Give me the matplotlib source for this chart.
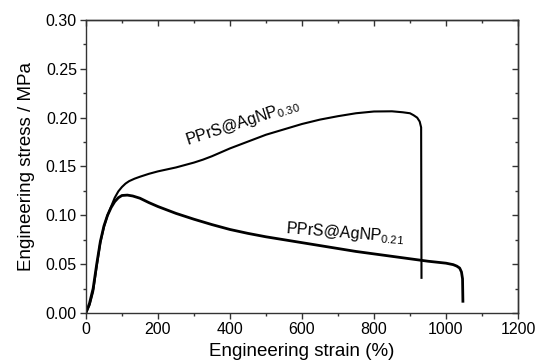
import numpy as np
import matplotlib
matplotlib.use("Agg")
import matplotlib.pyplot as plt
from matplotlib.ticker import MultipleLocator, FormatStrFormatter, NullFormatter

plt.rcParams['font.family'] = ['Liberation Sans', 'DejaVu Sans']
plt.rcParams['mathtext.fontset'] = 'custom'
plt.rcParams['mathtext.rm'] = 'Liberation Sans'
plt.rcParams['mathtext.it'] = 'Liberation Sans:italic'

# PPrS@AgNP 0.30
strain_30 = [0, 10, 20, 30, 40, 50, 60, 70, 80, 90, 100, 110, 120, 135, 150, 175, 200,
             225, 250, 275, 300, 325, 350, 375, 400, 425, 450, 475, 500, 550, 600,
             650, 700, 750, 800, 850, 880, 900, 910, 920, 927, 931, 932]
stress_30 = [0, 0.008, 0.022, 0.048, 0.072, 0.088, 0.100, 0.109, 0.118, 0.1245, 0.129,
             0.1325, 0.135, 0.1375, 0.1395, 0.1425, 0.145, 0.147, 0.149, 0.1515, 0.154,
             0.157, 0.1605, 0.1645, 0.1685, 0.172, 0.1755, 0.179, 0.1825, 0.188,
             0.1935, 0.198, 0.2015, 0.2045, 0.2063, 0.2065, 0.2055, 0.2045, 0.2025,
             0.200, 0.196, 0.190, 0.036]

# PPrS@AgNP 0.21
strain_21 = [0, 10, 20, 30, 40, 50, 60, 70, 80, 90, 100, 115, 130, 150, 175, 200, 250,
             300, 350, 400, 450, 500, 550, 600, 650, 700, 750, 800, 850, 900, 950,
             1000, 1020, 1030, 1038, 1043, 1046, 1047]
stress_21 = [0, 0.010, 0.025, 0.050, 0.073, 0.089, 0.100, 0.108, 0.114, 0.118, 0.1203,
             0.1207, 0.1198, 0.1175, 0.113, 0.109, 0.102, 0.096, 0.0905, 0.0855,
             0.0815, 0.078, 0.075, 0.072, 0.069, 0.066, 0.063, 0.0605, 0.058, 0.0555,
             0.053, 0.051, 0.0495, 0.048, 0.046, 0.042, 0.035, 0.012]

fig = plt.figure(figsize=(5.37, 3.62), dpi=100)
ax = fig.add_axes([0.160, 0.1354, 0.8046, 0.8094])

ax.plot(strain_30, stress_30, color='black', lw=1.5)
ax.plot(strain_21, stress_21, color='black', lw=2.0)

ax.set_xlim(0, 1200)
ax.set_ylim(0, 0.30)
ax.xaxis.set_major_locator(MultipleLocator(200))
ax.xaxis.set_minor_locator(MultipleLocator(100))
ax.yaxis.set_major_locator(MultipleLocator(0.05))
ax.yaxis.set_minor_locator(MultipleLocator(0.025))
ax.yaxis.set_major_formatter(FormatStrFormatter('%.2f'))
ax.tick_params(which='both', direction='out', labelsize=11.5, color='#333333')
ax.tick_params(which='major', length=4, width=1, pad=2.5)
ax.tick_params(which='minor', length=2.5, width=1)
for s in ax.spines.values():
    s.set_linewidth(1.0)
    s.set_color('#333333')

# inward ticks on top and right
top = ax.secondary_xaxis('top')
top.xaxis.set_major_locator(MultipleLocator(200))
top.xaxis.set_minor_locator(MultipleLocator(100))
top.xaxis.set_major_formatter(NullFormatter())
right = ax.secondary_yaxis('right')
right.yaxis.set_major_locator(MultipleLocator(0.05))
right.yaxis.set_minor_locator(MultipleLocator(0.025))
right.yaxis.set_major_formatter(NullFormatter())
for sec in (top, right):
    sec.tick_params(which='both', direction='in', color='#333333')
    sec.tick_params(which='major', length=4, width=1)
    sec.tick_params(which='minor', length=2.5, width=1)
    for s in sec.spines.values():
        s.set_linewidth(1.0)
        s.set_color('#333333')

ax.set_xlabel('Engineering strain (%)', fontsize=13.5, labelpad=4)
ax.set_ylabel('Engineering stress / MPa', fontsize=13.5, labelpad=8)

ax.text(281, 0.172, r'PPrS@AgNP$_{0.30}$', rotation=18, fontsize=11.5,
        rotation_mode='anchor')
ax.text(553, 0.082, r'PPrS@AgNP$_{0.21}$', rotation=-4.5, fontsize=11.5,
        rotation_mode='anchor')

fig.savefig('out.png', dpi=100)
